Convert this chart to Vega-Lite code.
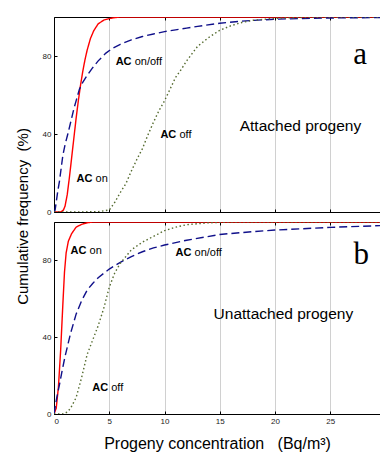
{
  "$schema": "https://vega.github.io/schema/vega-lite/v6.json",
  "padding": {"left": 15, "top": 16, "right": 0, "bottom": 41},
  "background": "white",
  "bounds": "flush",
  "spacing": 10,
  "config": {
    "view": {"stroke": null},
    "font": "Liberation Sans",
    "axis": {
      "domainColor": "#000000",
      "domainWidth": 1,
      "tickColor": "#000000",
      "tickSize": -3,
      "labelOverlap": false,
      "labelSeparation": -100,
      "labelFont": "Liberation Sans",
      "labelFontSize": 8,
      "labelColor": "#222222",
      "titleFont": "Liberation Sans",
      "titleFontWeight": "normal",
      "titleColor": "#000000",
      "gridColor": "#d0d0d0",
      "gridWidth": 1
    }
  },
  "datasets": {
    "curves": [
      {"p": "a", "s": "AC on", "x": 0, "y": 0},
      {"p": "a", "s": "AC on", "x": 0.6, "y": 0},
      {"p": "a", "s": "AC on", "x": 0.85, "y": 1},
      {"p": "a", "s": "AC on", "x": 1.0, "y": 3},
      {"p": "a", "s": "AC on", "x": 1.2, "y": 9},
      {"p": "a", "s": "AC on", "x": 1.4, "y": 18},
      {"p": "a", "s": "AC on", "x": 1.6, "y": 28},
      {"p": "a", "s": "AC on", "x": 1.8, "y": 38},
      {"p": "a", "s": "AC on", "x": 2.0, "y": 48},
      {"p": "a", "s": "AC on", "x": 2.2, "y": 57},
      {"p": "a", "s": "AC on", "x": 2.4, "y": 65},
      {"p": "a", "s": "AC on", "x": 2.6, "y": 72},
      {"p": "a", "s": "AC on", "x": 2.8, "y": 78},
      {"p": "a", "s": "AC on", "x": 3.0, "y": 83},
      {"p": "a", "s": "AC on", "x": 3.3, "y": 89},
      {"p": "a", "s": "AC on", "x": 3.6, "y": 93},
      {"p": "a", "s": "AC on", "x": 4.0, "y": 96.5},
      {"p": "a", "s": "AC on", "x": 4.5, "y": 98.4},
      {"p": "a", "s": "AC on", "x": 5.0, "y": 99.2},
      {"p": "a", "s": "AC on", "x": 5.5, "y": 99.7},
      {"p": "a", "s": "AC on", "x": 6.0, "y": 100},
      {"p": "a", "s": "AC on", "x": 29.5, "y": 100},
      {"p": "a", "s": "AC on/off", "x": 0, "y": 0},
      {"p": "a", "s": "AC on/off", "x": 0.1, "y": 1},
      {"p": "a", "s": "AC on/off", "x": 0.2, "y": 5},
      {"p": "a", "s": "AC on/off", "x": 0.35, "y": 11},
      {"p": "a", "s": "AC on/off", "x": 0.5, "y": 16},
      {"p": "a", "s": "AC on/off", "x": 0.8, "y": 29},
      {"p": "a", "s": "AC on/off", "x": 1.0, "y": 34.5},
      {"p": "a", "s": "AC on/off", "x": 1.25, "y": 40},
      {"p": "a", "s": "AC on/off", "x": 1.55, "y": 47},
      {"p": "a", "s": "AC on/off", "x": 1.8, "y": 53},
      {"p": "a", "s": "AC on/off", "x": 2.0, "y": 57},
      {"p": "a", "s": "AC on/off", "x": 2.3, "y": 63},
      {"p": "a", "s": "AC on/off", "x": 2.6, "y": 66.5},
      {"p": "a", "s": "AC on/off", "x": 3.0, "y": 70},
      {"p": "a", "s": "AC on/off", "x": 3.5, "y": 74},
      {"p": "a", "s": "AC on/off", "x": 4.0, "y": 77.5},
      {"p": "a", "s": "AC on/off", "x": 4.7, "y": 81.5},
      {"p": "a", "s": "AC on/off", "x": 5.3, "y": 84},
      {"p": "a", "s": "AC on/off", "x": 6.0, "y": 86},
      {"p": "a", "s": "AC on/off", "x": 7.0, "y": 88.3},
      {"p": "a", "s": "AC on/off", "x": 8.0, "y": 90},
      {"p": "a", "s": "AC on/off", "x": 9.0, "y": 91.3},
      {"p": "a", "s": "AC on/off", "x": 10, "y": 92.5},
      {"p": "a", "s": "AC on/off", "x": 11, "y": 93.4},
      {"p": "a", "s": "AC on/off", "x": 12, "y": 94.3},
      {"p": "a", "s": "AC on/off", "x": 13, "y": 95.2},
      {"p": "a", "s": "AC on/off", "x": 15, "y": 96.8},
      {"p": "a", "s": "AC on/off", "x": 17, "y": 97.9},
      {"p": "a", "s": "AC on/off", "x": 20, "y": 98.9},
      {"p": "a", "s": "AC on/off", "x": 25, "y": 99.5},
      {"p": "a", "s": "AC on/off", "x": 29.5, "y": 99.7},
      {"p": "a", "s": "AC off", "x": 0, "y": 0},
      {"p": "a", "s": "AC off", "x": 2, "y": 0},
      {"p": "a", "s": "AC off", "x": 4, "y": 0.2},
      {"p": "a", "s": "AC off", "x": 5, "y": 1},
      {"p": "a", "s": "AC off", "x": 5.5, "y": 5},
      {"p": "a", "s": "AC off", "x": 6, "y": 10},
      {"p": "a", "s": "AC off", "x": 6.5, "y": 14.5},
      {"p": "a", "s": "AC off", "x": 7, "y": 21},
      {"p": "a", "s": "AC off", "x": 7.5, "y": 27},
      {"p": "a", "s": "AC off", "x": 8, "y": 32.5},
      {"p": "a", "s": "AC off", "x": 8.5, "y": 39.5},
      {"p": "a", "s": "AC off", "x": 9, "y": 46},
      {"p": "a", "s": "AC off", "x": 9.5, "y": 52},
      {"p": "a", "s": "AC off", "x": 10, "y": 57},
      {"p": "a", "s": "AC off", "x": 10.5, "y": 63},
      {"p": "a", "s": "AC off", "x": 11, "y": 69},
      {"p": "a", "s": "AC off", "x": 11.5, "y": 73},
      {"p": "a", "s": "AC off", "x": 12, "y": 77.5},
      {"p": "a", "s": "AC off", "x": 13, "y": 85},
      {"p": "a", "s": "AC off", "x": 14, "y": 89.5},
      {"p": "a", "s": "AC off", "x": 15, "y": 93.2},
      {"p": "a", "s": "AC off", "x": 16, "y": 95.5},
      {"p": "a", "s": "AC off", "x": 17, "y": 97.2},
      {"p": "a", "s": "AC off", "x": 18, "y": 98.3},
      {"p": "a", "s": "AC off", "x": 20, "y": 99.3},
      {"p": "a", "s": "AC off", "x": 22, "y": 99.7},
      {"p": "a", "s": "AC off", "x": 25, "y": 100},
      {"p": "a", "s": "AC off", "x": 29.5, "y": 100},
      {"p": "b", "s": "AC on", "x": 0, "y": 0},
      {"p": "b", "s": "AC on", "x": 0.2, "y": 3},
      {"p": "b", "s": "AC on", "x": 0.4, "y": 14},
      {"p": "b", "s": "AC on", "x": 0.6, "y": 33},
      {"p": "b", "s": "AC on", "x": 0.8, "y": 57},
      {"p": "b", "s": "AC on", "x": 0.95, "y": 74},
      {"p": "b", "s": "AC on", "x": 1.1, "y": 84},
      {"p": "b", "s": "AC on", "x": 1.3, "y": 90},
      {"p": "b", "s": "AC on", "x": 1.6, "y": 94},
      {"p": "b", "s": "AC on", "x": 2.0, "y": 97.3},
      {"p": "b", "s": "AC on", "x": 2.5, "y": 98.8},
      {"p": "b", "s": "AC on", "x": 3.0, "y": 99.6},
      {"p": "b", "s": "AC on", "x": 3.5, "y": 100},
      {"p": "b", "s": "AC on", "x": 29.5, "y": 100},
      {"p": "b", "s": "AC on/off", "x": 0, "y": 0},
      {"p": "b", "s": "AC on/off", "x": 0.25, "y": 8.5},
      {"p": "b", "s": "AC on/off", "x": 0.5, "y": 15.5},
      {"p": "b", "s": "AC on/off", "x": 0.75, "y": 23},
      {"p": "b", "s": "AC on/off", "x": 1.0, "y": 30},
      {"p": "b", "s": "AC on/off", "x": 1.5, "y": 42},
      {"p": "b", "s": "AC on/off", "x": 2.0, "y": 52},
      {"p": "b", "s": "AC on/off", "x": 2.5, "y": 59},
      {"p": "b", "s": "AC on/off", "x": 3.0, "y": 64.5},
      {"p": "b", "s": "AC on/off", "x": 3.5, "y": 68},
      {"p": "b", "s": "AC on/off", "x": 4, "y": 71},
      {"p": "b", "s": "AC on/off", "x": 5, "y": 75.5},
      {"p": "b", "s": "AC on/off", "x": 6, "y": 79},
      {"p": "b", "s": "AC on/off", "x": 7, "y": 82},
      {"p": "b", "s": "AC on/off", "x": 8, "y": 84.5},
      {"p": "b", "s": "AC on/off", "x": 9, "y": 86.5},
      {"p": "b", "s": "AC on/off", "x": 10, "y": 88},
      {"p": "b", "s": "AC on/off", "x": 12, "y": 90.5},
      {"p": "b", "s": "AC on/off", "x": 15, "y": 93.5},
      {"p": "b", "s": "AC on/off", "x": 18, "y": 95},
      {"p": "b", "s": "AC on/off", "x": 20, "y": 95.8},
      {"p": "b", "s": "AC on/off", "x": 25, "y": 97.2},
      {"p": "b", "s": "AC on/off", "x": 29.5, "y": 98.1},
      {"p": "b", "s": "AC off", "x": 0, "y": 0},
      {"p": "b", "s": "AC off", "x": 0.8, "y": 0},
      {"p": "b", "s": "AC off", "x": 1.2, "y": 1},
      {"p": "b", "s": "AC off", "x": 1.5, "y": 3},
      {"p": "b", "s": "AC off", "x": 2, "y": 8.5},
      {"p": "b", "s": "AC off", "x": 2.5, "y": 19},
      {"p": "b", "s": "AC off", "x": 3, "y": 31},
      {"p": "b", "s": "AC off", "x": 3.5, "y": 38.5},
      {"p": "b", "s": "AC off", "x": 4, "y": 46},
      {"p": "b", "s": "AC off", "x": 4.5, "y": 55},
      {"p": "b", "s": "AC off", "x": 5, "y": 66},
      {"p": "b", "s": "AC off", "x": 5.5, "y": 73.5},
      {"p": "b", "s": "AC off", "x": 6, "y": 78.5},
      {"p": "b", "s": "AC off", "x": 7, "y": 85.5},
      {"p": "b", "s": "AC off", "x": 8, "y": 89.5},
      {"p": "b", "s": "AC off", "x": 9, "y": 92.5},
      {"p": "b", "s": "AC off", "x": 10, "y": 95.5},
      {"p": "b", "s": "AC off", "x": 11, "y": 97.3},
      {"p": "b", "s": "AC off", "x": 12, "y": 98.6},
      {"p": "b", "s": "AC off", "x": 14, "y": 99.6},
      {"p": "b", "s": "AC off", "x": 16, "y": 100},
      {"p": "b", "s": "AC off", "x": 29.5, "y": 100}
    ],
    "labels": [
      {"p": "a", "name": "on", "x": 2.04, "y": 16.9},
      {"p": "a", "name": "on/off", "x": 5.58, "y": 77.1},
      {"p": "a", "name": "off", "x": 9.63, "y": 39.3},
      {"p": "b", "name": "on", "x": 1.5, "y": 84.9},
      {"p": "b", "name": "off", "x": 3.46, "y": 13.7},
      {"p": "b", "name": "on/off", "x": 11.0, "y": 84.0}
    ],
    "big": [
      {"p": "a", "text": "Attached progeny", "x": 22.3, "y": 44.1},
      {"p": "b", "text": "Unattached progeny", "x": 20.76, "y": 51.9}
    ],
    "letters": [
      {"p": "a", "text": "a", "x": 27.7, "y": 75.7},
      {"p": "b", "text": "b", "x": 27.8, "y": 78.1}
    ]
  },
  "vconcat": [
    {
      "width": 326,
      "height": 195,
      "resolve": {"axis": {"x": "independent"}},
      "layer": [
        {
          "data": {"name": "curves"},
          "transform": [{"filter": "datum.p === 'a'"}],
          "mark": {"type": "line", "strokeWidth": 1.4, "clip": true},
          "encoding": {
            "x": {"field": "x", "type": "quantitative", "scale": {"domain": [0, 29.5], "nice": false},
              "axis": {"orient": "bottom", "values": [0, 5, 10, 15, 20, 25], "labels": false, "grid": true, "title": null}},
            "y": {"field": "y", "type": "quantitative", "scale": {"domain": [0, 100], "nice": false},
              "axis": {"values": [0, 10, 20, 30, 40, 50, 60, 70, 80, 90, 100], "labelExpr": "datum.value % 20 === 0 ? datum.label : ''", "labelOverlap": false, "labelSeparation": -100, "labelPadding": 6, "grid": false,
                "title": "Cumulative frequency\u00a0\u00a0(%)", "titleFontSize": 15, "titleX": -32, "titleY": 199, "titleAlign": "center", "titleBaseline": "middle", "titleAngle": 270}},
            "color": {"field": "s", "type": "nominal", "scale": {"domain": ["AC on", "AC on/off", "AC off"], "range": ["#ff0000", "#10108a", "#556b2f"]}, "legend": null},
            "strokeDash": {"field": "s", "type": "nominal", "scale": {"domain": ["AC on", "AC on/off", "AC off"], "range": [[1, 0], [8, 4], [1.5, 2.5]]}, "legend": null}
          }
        },
        {
          "data": {"name": "labels"},
          "transform": [{"filter": "datum.p === 'a'"}],
          "mark": {"type": "text", "fontWeight": "bold", "fontSize": 11, "align": "left", "baseline": "middle", "color": "#000000"},
          "encoding": {
            "x": {"field": "x", "type": "quantitative", "axis": {"orient": "top", "values": [0, 5, 10, 15, 20, 25], "labels": false, "grid": false, "title": null}},
            "y": {"field": "y", "type": "quantitative"},
            "text": {"value": "AC"}
          }
        },
        {
          "data": {"name": "labels"},
          "transform": [{"filter": "datum.p === 'a'"}],
          "mark": {"type": "text", "fontSize": 11, "align": "left", "baseline": "middle", "dx": 19, "color": "#000000"},
          "encoding": {
            "x": {"field": "x", "type": "quantitative", "axis": null},
            "y": {"field": "y", "type": "quantitative"},
            "text": {"field": "name"}
          }
        },
        {
          "data": {"name": "big"},
          "transform": [{"filter": "datum.p === 'a'"}],
          "mark": {"type": "text", "fontSize": 15.5, "align": "center", "baseline": "middle", "color": "#000000"},
          "encoding": {
            "x": {"field": "x", "type": "quantitative", "axis": null},
            "y": {"field": "y", "type": "quantitative"},
            "text": {"field": "text"}
          }
        },
        {
          "data": {"name": "letters"},
          "transform": [{"filter": "datum.p === 'a'"}],
          "mark": {"type": "text", "font": "Liberation Serif", "fontSize": 31, "align": "center", "baseline": "alphabetic", "color": "#000000"},
          "encoding": {
            "x": {"field": "x", "type": "quantitative", "axis": null},
            "y": {"field": "y", "type": "quantitative"},
            "text": {"field": "text"}
          }
        }
      ]
    },
    {
      "width": 326,
      "height": 192,
      "resolve": {"axis": {"x": "independent"}},
      "layer": [
        {
          "data": {"name": "curves"},
          "transform": [{"filter": "datum.p === 'b'"}],
          "mark": {"type": "line", "strokeWidth": 1.4, "clip": true},
          "encoding": {
            "x": {"field": "x", "type": "quantitative", "scale": {"domain": [0, 29.5], "nice": false},
              "axis": {"orient": "bottom", "values": [0, 5, 10, 15, 20, 25], "labelOverlap": false, "labelPadding": 6, "grid": true,
                "title": "Progeny concentration\u00a0\u00a0\u00a0(Bq/m³)", "titleFontSize": 16, "titlePadding": 10}},
            "y": {"field": "y", "type": "quantitative", "scale": {"domain": [0, 100], "nice": false},
              "axis": {"values": [0, 10, 20, 30, 40, 50, 60, 70, 80, 90, 100], "labelExpr": "datum.value % 20 === 0 ? datum.label : ''", "labelOverlap": false, "labelSeparation": -100, "labelPadding": 6, "grid": false, "title": null}},
            "color": {"field": "s", "type": "nominal", "scale": {"domain": ["AC on", "AC on/off", "AC off"], "range": ["#ff0000", "#10108a", "#556b2f"]}, "legend": null},
            "strokeDash": {"field": "s", "type": "nominal", "scale": {"domain": ["AC on", "AC on/off", "AC off"], "range": [[1, 0], [8, 4], [1.5, 2.5]]}, "legend": null}
          }
        },
        {
          "data": {"name": "labels"},
          "transform": [{"filter": "datum.p === 'b'"}],
          "mark": {"type": "text", "fontWeight": "bold", "fontSize": 11, "align": "left", "baseline": "middle", "color": "#000000"},
          "encoding": {
            "x": {"field": "x", "type": "quantitative", "axis": {"orient": "top", "values": [0, 5, 10, 15, 20, 25], "labels": false, "grid": false, "title": null}},
            "y": {"field": "y", "type": "quantitative"},
            "text": {"value": "AC"}
          }
        },
        {
          "data": {"name": "labels"},
          "transform": [{"filter": "datum.p === 'b'"}],
          "mark": {"type": "text", "fontSize": 11, "align": "left", "baseline": "middle", "dx": 19, "color": "#000000"},
          "encoding": {
            "x": {"field": "x", "type": "quantitative", "axis": null},
            "y": {"field": "y", "type": "quantitative"},
            "text": {"field": "name"}
          }
        },
        {
          "data": {"name": "big"},
          "transform": [{"filter": "datum.p === 'b'"}],
          "mark": {"type": "text", "fontSize": 15.5, "align": "center", "baseline": "middle", "color": "#000000"},
          "encoding": {
            "x": {"field": "x", "type": "quantitative", "axis": null},
            "y": {"field": "y", "type": "quantitative"},
            "text": {"field": "text"}
          }
        },
        {
          "data": {"name": "letters"},
          "transform": [{"filter": "datum.p === 'b'"}],
          "mark": {"type": "text", "font": "Liberation Serif", "fontSize": 31, "align": "center", "baseline": "alphabetic", "color": "#000000"},
          "encoding": {
            "x": {"field": "x", "type": "quantitative", "axis": null},
            "y": {"field": "y", "type": "quantitative"},
            "text": {"field": "text"}
          }
        }
      ]
    }
  ]
}
